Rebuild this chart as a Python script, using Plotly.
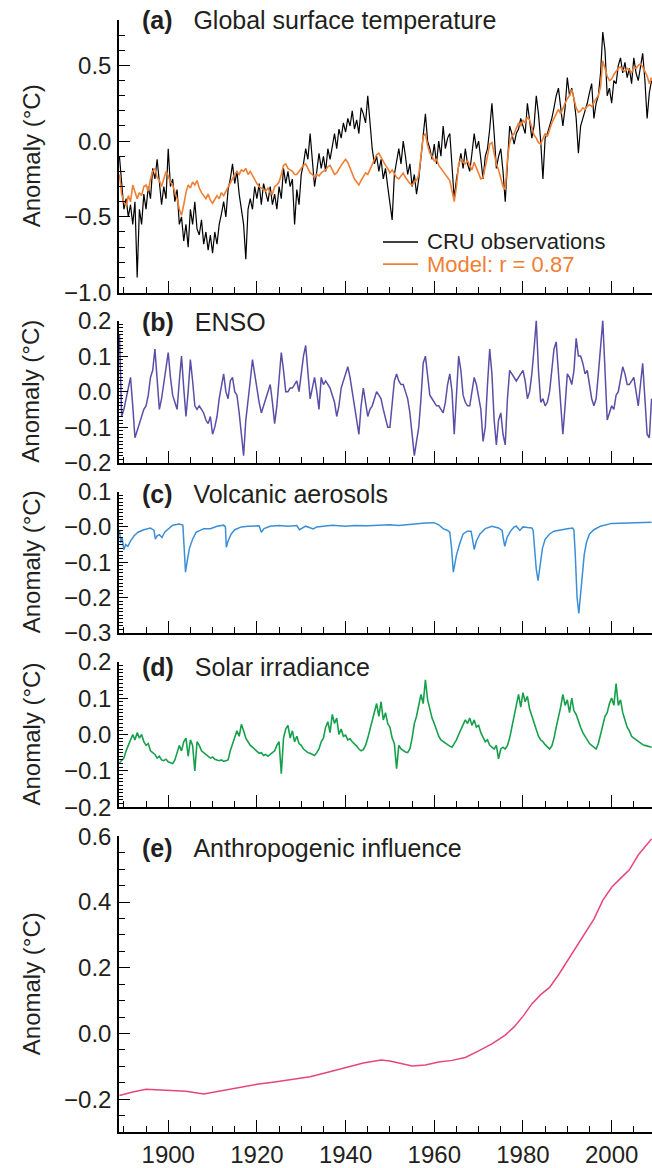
import plotly.graph_objects as go

# ---------------------------------------------------------------------------
# Data (anomalies in degC). Monthly-resolution series are stored at half-year
# steps starting in 1889.0; the sparse series carry their own year lists.
# ---------------------------------------------------------------------------
START_YEAR = 1889.0
STEP = 0.5

cru_obs = [
    -0.10, -0.30, -0.45, -0.38, -0.50, -0.42, -0.55, -0.40, -0.90, -0.45,  # 1889-1893.5
    -0.55, -0.35, -0.45, -0.30, -0.38, -0.18, -0.25, -0.12, -0.28, -0.42,  # 1894-1898.5
    -0.30, -0.38, -0.05, -0.30, -0.25, -0.40, -0.32, -0.55, -0.50, -0.66,  # 1899-1903.5
    -0.55, -0.70, -0.45, -0.55, -0.40, -0.58, -0.62, -0.52, -0.68, -0.60,  # 1904-1908.5
    -0.72, -0.62, -0.74, -0.60, -0.68, -0.55, -0.48, -0.40, -0.50, -0.32,  # 1909-1913.5
    -0.25, -0.15, -0.28, -0.20, -0.35, -0.45, -0.55, -0.78, -0.45, -0.38,  # 1914-1918.5
    -0.45, -0.30, -0.38, -0.28, -0.42, -0.28, -0.35, -0.40, -0.30, -0.42,  # 1919-1923.5
    -0.35, -0.45, -0.30, -0.38, -0.18, -0.28, -0.20, -0.30, -0.25, -0.55,  # 1924-1928.5
    -0.32, -0.42, -0.22, -0.15, -0.05, -0.12, 0.05, -0.15, -0.30, -0.20,   # 1929-1933.5
    -0.08, -0.18, -0.10, -0.20, -0.05, -0.12, -0.02, 0.05, -0.05, 0.08,    # 1934-1938.5
    0.02, 0.12, 0.06, 0.15, 0.10, 0.20, 0.08, 0.14, 0.05, 0.22,            # 1939-1943.5
    0.18, 0.12, 0.30, 0.10, -0.05, -0.15, -0.10, -0.20, -0.12, -0.25,      # 1944-1948.5
    -0.18, -0.30, -0.40, -0.52, -0.22, -0.12, -0.05, -0.15, 0.00, -0.10,   # 1949-1953.5
    -0.22, -0.15, -0.30, -0.22, -0.35, -0.25, -0.10, 0.05, 0.18, 0.00,     # 1954-1958.5
    -0.05, -0.12, -0.02, -0.15, 0.00, -0.10, 0.10, -0.05, 0.02, 0.05,      # 1959-1963.5
    -0.20, -0.38, -0.25, -0.15, -0.08, -0.18, -0.05, -0.15, -0.20, -0.08,  # 1964-1968.5
    0.05, -0.05, 0.00, -0.12, -0.25, -0.10, -0.05, 0.08, 0.25, 0.05,       # 1969-1973.5
    -0.18, -0.10, -0.05, -0.20, -0.40, -0.15, 0.10, 0.05, -0.02, 0.05,     # 1974-1978.5
    0.08, 0.15, 0.10, 0.05, 0.25, 0.12, 0.02, 0.10, 0.30, 0.18,            # 1979-1983.5
    0.00, -0.25, 0.02, 0.05, 0.10, 0.15, 0.22, 0.30, 0.35, 0.20,           # 1984-1988.5
    0.10, 0.22, 0.42, 0.30, 0.35, 0.28, 0.15, -0.08, 0.10, 0.15,           # 1989-1993.5
    0.20, 0.25, 0.32, 0.38, 0.15, 0.25, 0.30, 0.45, 0.72, 0.60,            # 1994-1998.5
    0.30, 0.35, 0.25, 0.40, 0.38, 0.50, 0.55, 0.45, 0.52, 0.42,            # 1999-2003.5
    0.48, 0.38, 0.55, 0.45, 0.40, 0.50, 0.58, 0.40, 0.15, 0.32,            # 2004-2008.5
    0.40,                                                                  # 2009
]

model = [
    -0.22, -0.35, -0.40, -0.43, -0.36, -0.40, -0.29, -0.33, -0.38, -0.34,
    -0.36, -0.30, -0.29, -0.33, -0.25, -0.20, -0.18, -0.24, -0.26, -0.30,
    -0.24, -0.20, -0.23, -0.27, -0.29, -0.33, -0.38, -0.45, -0.49, -0.42,
    -0.34, -0.29, -0.31, -0.27, -0.29, -0.26, -0.31, -0.34, -0.36, -0.38,
    -0.35, -0.39, -0.41, -0.38, -0.36, -0.38, -0.34, -0.36, -0.33, -0.30,
    -0.27, -0.24, -0.22, -0.20, -0.22, -0.19, -0.20, -0.18, -0.22, -0.20,
    -0.23, -0.25, -0.28, -0.30, -0.31, -0.32, -0.33, -0.31, -0.34, -0.35,
    -0.30, -0.29, -0.27, -0.22, -0.16, -0.15, -0.18, -0.19, -0.20, -0.22,
    -0.22, -0.20, -0.18, -0.16, -0.15, -0.18, -0.21, -0.22, -0.24, -0.22,
    -0.23, -0.21, -0.20, -0.19, -0.17, -0.16, -0.19, -0.22, -0.21, -0.18,
    -0.16, -0.14, -0.12, -0.14, -0.18, -0.22, -0.25, -0.27, -0.29, -0.26,
    -0.23, -0.21, -0.22, -0.19, -0.15, -0.12, -0.09, -0.08, -0.11, -0.14,
    -0.16, -0.18, -0.21, -0.19, -0.22, -0.24, -0.25, -0.23, -0.21, -0.24,
    -0.26, -0.28, -0.29, -0.27, -0.26, -0.22, -0.10, 0.03, 0.05, -0.03,
    -0.08, -0.10, -0.13, -0.12, -0.16, -0.18, -0.20, -0.22, -0.24, -0.26,
    -0.33, -0.40, -0.30, -0.15, -0.12, -0.14, -0.15, -0.13, -0.16, -0.19,
    -0.14, -0.18, -0.22, -0.25, -0.24, -0.18, -0.10, -0.02, -0.01, -0.08,
    -0.15, -0.19, -0.24, -0.30, -0.32, -0.12, -0.01, 0.03, 0.05, 0.08,
    0.12, 0.10, 0.14, 0.12, 0.16, 0.14, 0.08, 0.04, 0.02, -0.01,
    -0.02, 0.02, 0.05, 0.03, 0.08, 0.12, 0.15, 0.18, 0.21, 0.18,
    0.22, 0.25, 0.28, 0.30, 0.34, 0.28, 0.22, 0.19, 0.20, 0.22,
    0.21, 0.23, 0.24, 0.23, 0.26, 0.28, 0.30, 0.36, 0.53, 0.48,
    0.43, 0.40, 0.41, 0.44, 0.46, 0.48, 0.49, 0.47, 0.46, 0.48,
    0.47, 0.45, 0.49, 0.48, 0.50, 0.51, 0.49, 0.46, 0.43, 0.38,
    0.42,
]

enso = [
    0.16, -0.07, -0.05, -0.02, 0.02, 0.04, -0.04, -0.13, -0.11, -0.09,
    -0.07, -0.05, -0.04, -0.01, 0.04, 0.06, 0.12, 0.03, -0.05, -0.02,
    0.02, 0.06, 0.11, 0.04, -0.01, -0.03, -0.05, 0.03, 0.10, 0.01,
    -0.07, 0.00, 0.09, 0.03, -0.04, -0.05, -0.04, -0.05, -0.06, -0.08,
    -0.09, -0.07, -0.12, -0.10, -0.07, -0.02, 0.02, 0.05, 0.00, -0.02,
    0.03, 0.04, 0.00, -0.01, -0.06, -0.12, -0.18, -0.08, -0.03, 0.03,
    0.09, 0.05, 0.00, -0.03, -0.06, -0.04, -0.02, 0.00, 0.02, -0.03,
    -0.09, -0.04, 0.05, 0.11, 0.06, 0.00, 0.00, 0.01, 0.01, 0.02,
    0.03, 0.00, 0.06, 0.10, 0.13, 0.05, -0.02, 0.01, 0.04, 0.00,
    -0.05, 0.04, 0.02, 0.03, 0.02, 0.01, -0.01, -0.03, -0.07, -0.04,
    0.01, 0.03, 0.05, 0.07, 0.04, 0.00, -0.03, -0.08, -0.12, -0.04,
    0.01, -0.03, -0.07, -0.05, -0.04, -0.02, 0.00, -0.01, -0.02, -0.05,
    -0.08, -0.10, -0.10, -0.03, 0.03, 0.05, 0.03, 0.02, 0.02, 0.00,
    -0.02, -0.06, -0.12, -0.18, -0.14, -0.10, -0.02, 0.08, 0.10, 0.04,
    -0.01, -0.02, -0.03, -0.04, -0.04, -0.05, -0.06, -0.03, 0.02, 0.05,
    0.00, -0.12, -0.02, 0.10, 0.06, -0.01, -0.03, -0.04, -0.04, 0.00,
    0.04, 0.02, -0.02, -0.05, -0.14, -0.10, 0.02, 0.12, 0.05, -0.08,
    -0.15, -0.08, -0.06, -0.12, -0.15, -0.02, 0.06, 0.05, 0.04, 0.03,
    0.04, 0.05, 0.06, 0.03, -0.02, 0.00, 0.05, 0.12, 0.20, 0.06,
    -0.03, -0.02, -0.04, -0.03, 0.00, 0.06, 0.12, 0.14, 0.05, -0.06,
    -0.12, -0.04, 0.05, 0.04, 0.02, 0.06, 0.15, 0.10, 0.10, 0.08,
    0.05, 0.06, 0.02, -0.02, -0.04, -0.02, 0.05, 0.12, 0.20, 0.06,
    -0.08, -0.06, -0.04, -0.05, -0.01, 0.00, 0.04, 0.07, 0.05, 0.02,
    0.02, 0.03, 0.04, 0.00, -0.04, 0.02, 0.08, -0.02, -0.12, -0.13,
    -0.02,
]

solar = [
    -0.078, -0.070, -0.065, -0.045, -0.030, -0.010, 0.000, -0.015, 0.005, -0.010,
    0.000, -0.020, -0.030, -0.025, -0.045, -0.050, -0.055, -0.065, -0.060, -0.070,
    -0.072, -0.068, -0.075, -0.078, -0.080, -0.070, -0.050, -0.030, -0.045, -0.020,
    -0.010, -0.060, -0.015, -0.030, -0.100, -0.020, -0.030, -0.045, -0.050, -0.055,
    -0.060, -0.065, -0.062, -0.068, -0.070, -0.072, -0.070, -0.074, -0.072, -0.070,
    -0.045, -0.025, -0.010, 0.010, -0.005, 0.028, 0.010, -0.010, -0.020, -0.030,
    -0.035, -0.040, -0.045, -0.052, -0.050, -0.058, -0.055, -0.060, -0.055, -0.050,
    -0.045, -0.030, -0.020, -0.108, -0.010, 0.015, 0.025, -0.010, 0.010, -0.020,
    -0.005, -0.025, -0.030, -0.040, -0.045, -0.050, -0.052, -0.055, -0.058, -0.050,
    -0.040, -0.020, -0.010, 0.020, 0.035, 0.005, 0.055, 0.030, 0.045, 0.000,
    0.015, -0.005, -0.002, -0.015, -0.012, -0.020, -0.025, -0.032, -0.040, -0.045,
    -0.042, -0.030, -0.010, 0.015, 0.040, 0.065, 0.085, 0.050, 0.090, 0.040,
    0.060, 0.030, 0.020, -0.010, -0.025, -0.094, -0.030, -0.040, -0.045, -0.048,
    -0.050, -0.040, -0.010, 0.030, 0.050, 0.080, 0.110, 0.085, 0.150, 0.095,
    0.070, 0.045, 0.030, 0.010, -0.005, -0.015, -0.020, -0.025, -0.028, -0.032,
    -0.035, -0.025, -0.015, 0.000, 0.015, 0.030, 0.040, 0.030, 0.045, 0.025,
    0.040, 0.020, 0.025, 0.005, -0.010, -0.020, -0.015, -0.030, -0.035, -0.040,
    -0.030, -0.067, -0.040, -0.035, -0.040, -0.030, -0.010, 0.020, 0.050, 0.085,
    0.110, 0.075, 0.115, 0.090, 0.105, 0.070, 0.050, 0.030, 0.010, -0.005,
    -0.015, -0.020, -0.028, -0.035, -0.040, -0.032, -0.010, 0.020, 0.045, 0.075,
    0.110, 0.080, 0.095, 0.060, 0.100, 0.065, 0.055, 0.035, 0.020, 0.005,
    -0.005, -0.015, -0.025, -0.030, -0.035, -0.040, -0.025, 0.000, 0.025, 0.050,
    0.060, 0.085, 0.100, 0.080, 0.140, 0.080, 0.095, 0.060, 0.040, 0.020,
    0.010, -0.005, -0.010, -0.015, -0.020, -0.025, -0.028, -0.030, -0.032, -0.035,
    -0.035,
]

volcanic_years = [
    1889.0, 1889.3, 1889.6, 1890.0, 1890.4, 1890.9, 1891.5, 1892.3, 1893.2, 1894.5,
    1896.0, 1896.8, 1897.1, 1897.5, 1898.0, 1898.6, 1899.2, 1900.0, 1901.0, 1902.5,
    1903.3, 1903.6, 1903.9, 1904.3, 1904.8, 1905.5, 1906.3, 1907.2, 1908.0, 1909.5,
    1911.0, 1912.5, 1912.9, 1913.1, 1913.5, 1914.2, 1915.0, 1916.5, 1918.0, 1920.5,
    1921.0, 1921.6, 1923.0, 1925.0, 1927.0, 1929.0, 1929.6, 1931.0, 1932.7, 1933.5,
    1935.0, 1937.0, 1940.0, 1942.0, 1945.0, 1947.0, 1950.0, 1952.0, 1955.0, 1958.0,
    1960.0, 1961.0, 1962.0, 1963.0, 1963.5, 1963.9, 1964.3, 1964.6, 1965.0, 1965.8,
    1966.5, 1967.5, 1968.3, 1968.7, 1969.0, 1969.5, 1970.3, 1971.5, 1973.0, 1974.5,
    1975.3, 1975.6, 1975.9, 1976.4, 1977.2, 1978.0, 1978.5, 1979.3, 1980.0, 1981.0,
    1982.0, 1982.3, 1982.6, 1983.0, 1983.4, 1983.8, 1984.4, 1985.0, 1986.0, 1987.0,
    1988.5, 1990.0, 1991.2, 1991.5, 1991.8, 1992.2, 1992.6, 1992.9, 1993.3, 1993.8,
    1994.3, 1995.0, 1996.0, 1997.5, 2000.0, 2004.0, 2009.0,
]
volcanic = [
    -0.010, -0.045, -0.030, -0.065, -0.050, -0.055, -0.040, -0.025, -0.015, -0.008,
    -0.003, -0.010, -0.035, -0.025, -0.022, -0.030, -0.015, -0.005, 0.005, 0.008,
    0.005, -0.060, -0.128, -0.095, -0.060, -0.035, -0.015, -0.010, -0.005, -0.005,
    0.002, 0.005, 0.000, -0.058, -0.040, -0.020, -0.008, 0.000, 0.002, 0.003,
    -0.015, -0.005, 0.002, 0.004, 0.002, 0.004, -0.008, 0.002, -0.006, 0.000,
    0.003, 0.005, 0.002, 0.004, 0.003, 0.005, 0.006, 0.004, 0.008, 0.011,
    0.012, 0.006, -0.005, -0.010, -0.015, -0.060, -0.128, -0.110, -0.080, -0.045,
    -0.020, -0.012, -0.012, -0.040, -0.064, -0.040, -0.020, -0.005, 0.002, -0.003,
    -0.010, -0.035, -0.055, -0.030, -0.012, 0.000, 0.002, -0.010, 0.000, -0.002,
    -0.003, -0.010, -0.060, -0.120, -0.152, -0.110, -0.060, -0.035, -0.020, -0.012,
    -0.008, -0.005, -0.003, -0.010, -0.080, -0.200, -0.245, -0.200, -0.140, -0.080,
    -0.045, -0.020, -0.008, 0.002, 0.010, 0.012, 0.013,
]

anthro_years = [
    1889, 1892, 1895, 1898, 1901, 1904, 1908, 1912, 1916, 1920,
    1924, 1928, 1932, 1936, 1940, 1944, 1948, 1950, 1952, 1955,
    1958, 1961, 1964, 1967, 1970, 1973, 1976, 1978, 1980, 1982,
    1984, 1986, 1988, 1990, 1992, 1994, 1996, 1998, 2000, 2002,
    2004, 2006, 2008, 2009,
]
anthro = [
    -0.189, -0.178, -0.170, -0.172, -0.174, -0.176, -0.184, -0.174, -0.165, -0.155,
    -0.148, -0.140, -0.132, -0.118, -0.104, -0.090, -0.081, -0.084, -0.090, -0.099,
    -0.096, -0.087, -0.082, -0.073, -0.053, -0.032, -0.005, 0.020, 0.052, 0.090,
    0.118, 0.140, 0.178, 0.220, 0.260, 0.302, 0.348, 0.405, 0.445, 0.472,
    0.498, 0.543, 0.575, 0.592,
]

# Tick values / labels per panel
ticks_a = [-1.0, -0.5, 0.0, 0.5]
labels_a = ["\u22121.0", "\u22120.5", "0.0", "0.5"]
ticks_b = [-0.2, -0.1, 0.0, 0.1, 0.2]
labels_b = ["\u22120.2", "\u22120.1", "0.0", "0.1", "0.2"]
ticks_c = [-0.3, -0.2, -0.1, 0.0, 0.1]
labels_c = ["\u22120.3", "\u22120.2", "\u22120.1", "\u22120.0", "0.1"]
ticks_d = [-0.2, -0.1, 0.0, 0.1, 0.2]
labels_d = ["\u22120.2", "\u22120.1", "0.0", "0.1", "0.2"]
ticks_e = [-0.2, 0.0, 0.2, 0.4, 0.6]
labels_e = ["\u22120.2", "0.0", "0.2", "0.4", "0.6"]
year_ticks = [1900, 1920, 1940, 1960, 1980, 2000]
year_labels = ["1900", "1920", "1940", "1960", "1980", "2000"]

half_years = [START_YEAR + STEP * i for i in range(len(cru_obs))]

# ---------------------------------------------------------------------------
FONT = "Liberation Sans, Arial, Helvetica, sans-serif"
TXT = "#231f20"
C_OBS = "#000000"
C_MODEL = "#ef7f35"
C_ENSO = "#5a4fa6"
C_VOLC = "#3a8fd8"
C_SOLAR = "#17a04c"
C_ANTH = "#e8457f"

fig = go.Figure()
fig.add_trace(go.Scatter(x=half_years, y=cru_obs, mode="lines",
                         line=dict(color=C_OBS, width=1.2), xaxis="x", yaxis="y"))
fig.add_trace(go.Scatter(x=half_years, y=model, mode="lines",
                         line=dict(color=C_MODEL, width=1.6), xaxis="x", yaxis="y"))
fig.add_trace(go.Scatter(x=half_years, y=enso, mode="lines",
                         line=dict(color=C_ENSO, width=1.5), xaxis="x2", yaxis="y2"))
fig.add_trace(go.Scatter(x=volcanic_years, y=volcanic, mode="lines",
                         line=dict(color=C_VOLC, width=1.5), xaxis="x3", yaxis="y3"))
fig.add_trace(go.Scatter(x=half_years, y=solar, mode="lines",
                         line=dict(color=C_SOLAR, width=1.6), xaxis="x4", yaxis="y4"))
fig.add_trace(go.Scatter(x=anthro_years, y=anthro, mode="lines",
                         line=dict(color=C_ANTH, width=1.5), xaxis="x5", yaxis="y5"))

XRANGE = [1888.9, 2009.1]
# panel domains (fractions of plotting height) and y ranges
panels = [
    dict(dom=[0.7549, 1.0], rng=[-1.0, 0.8], tv=ticks_a, tt=labels_a, minor=0.1, major_len=11, minor_len=6),
    dict(dom=[0.6019, 0.7297], rng=[-0.2, 0.2], tv=ticks_b, tt=labels_b, minor=0.01, major_len=9, minor_len=4),
    dict(dom=[0.4489, 0.5759], rng=[-0.3, 0.1], tv=ticks_c, tt=labels_c, minor=0.01, major_len=9, minor_len=4),
    dict(dom=[0.2921, 0.4229], rng=[-0.2, 0.2], tv=ticks_d, tt=labels_d, minor=0.01, major_len=9, minor_len=4),
    dict(dom=[0.0, 0.2659], rng=[-0.3, 0.6], tv=ticks_e, tt=labels_e, minor=0.05, major_len=11, minor_len=6),
]

layout = dict(
    width=652, height=1168,
    margin=dict(l=119, r=0, t=20, b=32),
    paper_bgcolor="white", plot_bgcolor="white",
    showlegend=False,
    font=dict(family=FONT, size=24, color=TXT),
)

for i, p in enumerate(panels):
    sfx = "" if i == 0 else str(i + 1)
    last = i == len(panels) - 1
    layout["xaxis" + sfx] = dict(
        domain=[0, 1], anchor="y" + sfx, range=XRANGE,
        showline=True, linecolor="black", linewidth=1.5,
        ticks="inside", ticklen=12, tickwidth=1.3, tickcolor="black",
        tickmode="array", tickvals=year_ticks, ticktext=year_labels,
        showticklabels=last, tickfont=dict(size=24, color=TXT),
        minor=dict(ticks="inside", tickmode="linear", tick0=1890, dtick=5,
                   ticklen=6, tickwidth=1.3, tickcolor="black"),
        showgrid=False, zeroline=False, fixedrange=True,
    )
    layout["yaxis" + sfx] = dict(
        domain=p["dom"], anchor="x" + sfx, range=p["rng"],
        showline=True, linecolor="black", linewidth=1.5,
        ticks="inside", ticklen=p["major_len"], tickwidth=1.3, tickcolor="black",
        tickmode="array", tickvals=p["tv"], ticktext=p["tt"],
        tickfont=dict(size=24, color=TXT), ticklabelstandoff=1,
        minor=dict(ticks="inside", tickmode="linear", tick0=0, dtick=p["minor"],
                   ticklen=p["minor_len"], tickwidth=1.1, tickcolor="black"),
        showgrid=False, zeroline=False, fixedrange=True,
    )

fig.update_layout(**layout)

titles = [
    ("(a)", "Global surface temperature", 0),
    ("(b)", "ENSO", -1),
    ("(c)", "Volcanic aerosols", -2),
    ("(d)", "Solar irradiance", -5),
    ("(e)", "Anthropogenic influence", -12),
]
annotations = []
for i, (tag, name, shift) in enumerate(titles):
    sfx = "" if i == 0 else str(i + 1)
    annotations.append(dict(
        text="<b>" + tag + "</b>\u00a0\u00a0\u00a0" + name,
        xref="paper", x=0.039, xanchor="left",
        yref="y" + sfx + " domain", y=1.0, yanchor="middle", yshift=shift,
        showarrow=False, font=dict(size=25, color=TXT),
    ))
    annotations.append(dict(
        text="Anomaly (\u00b0C)", textangle=-90,
        xref="paper", x=-0.165, xanchor="center",
        yref="y" + sfx + " domain", y=0.5, yanchor="middle",
        showarrow=False, font=dict(size=24, color=TXT),
    ))

# legend for panel (a)
legend_rows = [("CRU observations", C_OBS, TXT, 0.1857), ("Model: r = 0.87", C_MODEL, C_MODEL, 0.1042)]
shapes = []
for label, lc, tc, yy in legend_rows:
    shapes.append(dict(type="line", xref="paper", yref="y domain",
                       x0=0.4953, x1=0.561, y0=yy, y1=yy,
                       line=dict(color=lc, width=1.6)))
    annotations.append(dict(text=label, xref="paper", x=0.574, xanchor="left",
                            yref="y domain", y=yy, yanchor="middle",
                            showarrow=False, font=dict(size=22, color=tc)))

fig.update_layout(annotations=annotations, shapes=shapes)
fig.write_html("out.html")
